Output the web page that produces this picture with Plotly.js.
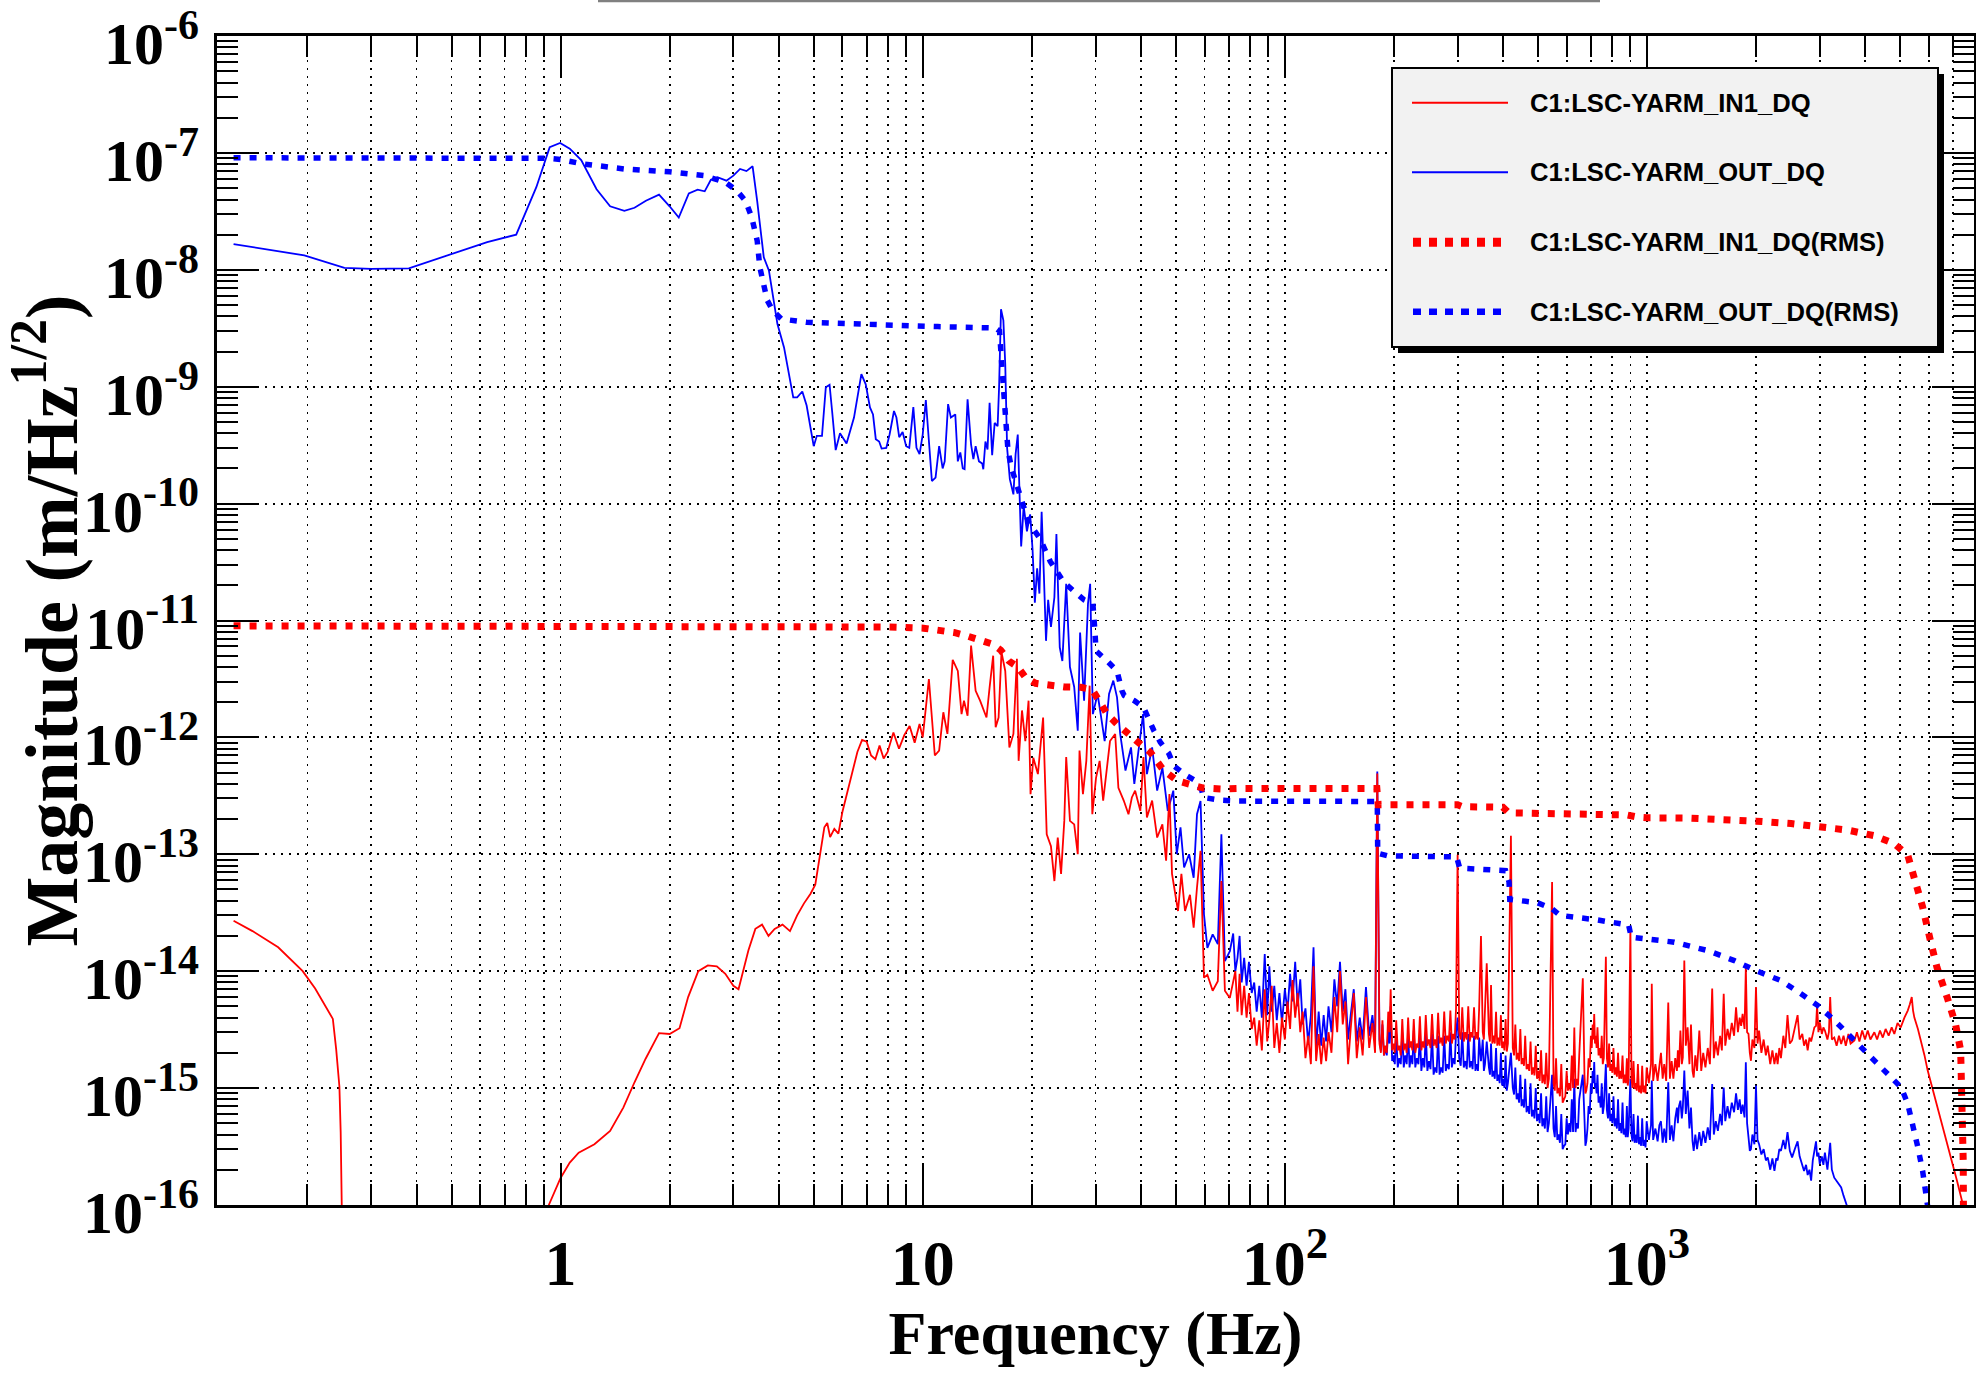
<!DOCTYPE html>
<html><head><meta charset="utf-8">
<script src="https://cdn.plot.ly/plotly-3.0.1.min.js"></script>
<style>html,body{margin:0;padding:0;background:#fff;}#plot{width:1976px;height:1382px;}</style>
</head><body><div id="plot"></div>
<script>
const seriesNames = ['C1:LSC-YARM_IN1_DQ','C1:LSC-YARM_OUT_DQ','C1:LSC-YARM_IN1_DQ(RMS)','C1:LSC-YARM_OUT_DQ(RMS)'];
const xTickVals = [1,10,100,1000];
const xTickText = ['1','10','10<sup>2</sup>','10<sup>3</sup>'];
const yTickVals = [1e-16,1e-15,1e-14,1e-13,1e-12,1e-11,1e-10,1e-9,1e-8,1e-7,1e-6];
const yTickText = ['10<sup>-16</sup>','10<sup>-15</sup>','10<sup>-14</sup>','10<sup>-13</sup>','10<sup>-12</sup>','10<sup>-11</sup>','10<sup>-10</sup>','10<sup>-9</sup>','10<sup>-8</sup>','10<sup>-7</sup>','10<sup>-6</sup>'];

// IN1 (red, solid) below 60 Hz
const inLowFreq = [0.125,0.141,0.166,0.194,0.21,0.224,0.235,0.240,0.245,0.247,0.2485,0.2495,0.5,
0.91,0.928,1.0,1.06,1.122,1.24,1.37,1.49,1.6,1.717,1.87,2.0,2.13,
2.25,2.4,2.55,2.7,2.85,3.0,3.1,3.3,3.45,3.6,3.75,3.9,4.1,4.3,
4.5,4.7,4.9,5.05,5.2,5.35,5.45,5.55,5.7,5.85,6.0,6.2,6.4,6.6,
6.8,7.0,7.2,7.4,7.6,7.8,8.0,8.3,8.6,8.9,9.2,9.5,9.8,
10.0,10.4,10.8,11.1,11.4,11.7,12.1,12.5,12.8,13.0,13.3,13.6,14.0,
14.4,15.0,15.3,15.65,15.9,16.2,16.5,16.9,17.35,17.8,18.2,18.4,18.8,
19.2,19.6,19.85,20.2,20.8,21.5,22.0,22.6,23.1,23.6,24.1,24.6,24.9,
25.5,26.2,26.8,27.1,27.7,28.3,28.9,29.4,30.1,30.8,31.5,32.2,32.9,
34.0,34.7,35.9,37.0,37.8,38.6,39.9,40.7,41.6,43.0,44.4,45.9,47.0,
48.0,48.8,49.6,50.7,51.8,53.0,54.7,56.0,57.2,58.5];
const inLowMag = [2.7e-14,2.2e-14,1.6e-14,1.0e-14,7.1e-15,5.0e-15,3.9e-15,2.15e-15,1.03e-15,4.2e-16,1.6e-16,5e-17,null,
6e-17,1.0e-16,1.7e-16,2.3e-16,2.8e-16,3.3e-16,4.3e-16,6.8e-16,1.12e-15,1.78e-15,2.95e-15,2.9e-15,3.25e-15,
6.0e-15,1.0e-14,1.12e-14,1.1e-14,9.5e-15,7.5e-15,7.0e-15,1.5e-14,2.3e-14,2.5e-14,2.0e-14,2.3e-14,2.5e-14,2.2e-14,
3.0e-14,3.8e-14,4.6e-14,5.5e-14,9.5e-14,1.7e-13,1.85e-13,1.4e-13,1.65e-13,1.5e-13,2.3e-13,3.5e-13,5.0e-13,7.5e-13,
9.5e-13,9.2e-13,7.0e-13,6.5e-13,8.5e-13,6.6e-13,7.5e-13,1.1e-12,8.0e-13,1.05e-12,1.25e-12,9.0e-13,1.3e-12,
1.0e-12,3.16e-12,7e-13,7.7e-13,1.64e-12,1.07e-12,4.6e-12,3.7e-12,1.58e-12,2.06e-12,1.53e-12,6.1e-12,2.5e-12,
2.06e-12,1.48e-12,2.68e-12,5.0e-12,1.22e-12,1.48e-12,5.35e-12,3.7e-12,8.2e-13,1.07e-12,4.7e-12,6.3e-13,1.7e-12,
9.3e-13,2.06e-12,3.27e-13,6.7e-13,4.85e-13,1.48e-12,1.48e-13,1.17e-13,5.9e-14,1.39e-13,6.8e-14,1.93e-13,6.8e-13,
1.93e-13,1.8e-13,1.0e-13,7.7e-13,3.27e-13,6.3e-13,2.77e-12,2.2e-13,4.5e-13,6.3e-13,2.88e-13,5.2e-13,9.3e-13,
1.07e-12,3.7e-13,2.88e-13,2.2e-13,3.06e-13,3.5e-13,2.35e-13,6.8e-13,2.06e-13,2.88e-13,1.39e-13,1.8e-13,8.8e-14,
3.27e-13,6.8e-14,4.85e-14,3.27e-14,6.8e-14,3.27e-14,4.5e-14,2.35e-14,5.2e-14,1.07e-13];

// OUT (blue, solid) below 60 Hz
const outLowFreq = [0.125,0.196,0.253,0.30,0.381,0.50,0.627,0.754,0.857,0.933,
0.997,1.06,1.14,1.257,1.37,1.50,1.60,1.72,1.87,2.0,
2.12,2.26,2.39,2.5,2.6,2.71,2.87,3.0,3.13,3.26,
3.39,3.49,3.64,3.76,3.87,3.97,4.14,4.27,4.39,4.5,
4.65,4.78,5.0,5.1,5.27,5.4,5.53,5.62,5.75,5.91,
6.16,6.46,6.63,6.77,6.96,7.15,7.29,7.42,7.58,7.70,
7.93,8.1,8.33,8.46,8.61,8.8,9.0,9.18,9.42,9.61,
9.8,10.0,10.2,10.6,10.85,11.1,11.35,11.5,11.75,11.96,
12.3,12.5,12.7,12.9,13.05,13.3,13.6,13.8,14.0,14.3,
14.6,14.7,14.9,15.1,15.3,15.55,15.8,16.1,16.25,16.45,
16.7,16.9,17.1,17.4,17.8,18.05,18.3,18.7,19.0,19.4,
19.8,20.1,20.4,20.7,21.0,21.3,21.6,21.9,22.2,22.6,
23.1,23.4,23.9,24.3,24.9,25.5,26.2,26.8,27.2,27.9,
28.6,29.0,29.5,30.4,31.1,31.8,32.7,33.6,34.4,35.1,
36.3,37.6,38.4,39.5,40.6,41.6,43.0,44.4,45.9,47.5,
49.2,50.3,51.5,52.7,54.4,56.0,57.2,58.5];
const outLowMag = [1.66e-8,1.33e-8,1.04e-8,1.02e-8,1.03e-8,1.37e-8,1.73e-8,2.0e-8,5.1e-8,1.12e-7,
1.22e-7,1.09e-7,8.7e-8,4.9e-8,3.5e-8,3.2e-8,3.4e-8,3.9e-8,4.4e-8,3.5e-8,
2.8e-8,4.5e-8,4.85e-8,4.7e-8,5.9e-8,6.2e-8,5.8e-8,6.4e-8,7.3e-8,7.0e-8,
7.7e-8,3.9e-8,1.28e-8,9.9e-9,5.46e-9,3.44e-9,2.17e-9,1.28e-9,8.1e-10,8.1e-10,
9.1e-10,6.9e-10,3.1e-10,3.8e-10,3.8e-10,9.9e-10,1.04e-9,6.2e-10,2.87e-10,4.0e-10,
3.27e-10,5.45e-10,9.2e-10,1.28e-9,1.05e-9,6.65e-10,5.8e-10,3.56e-10,3.4e-10,2.96e-10,
3.0e-10,3.9e-10,6.2e-10,5.45e-10,3.7e-10,4.1e-10,3.1e-10,3.0e-10,6.7e-10,3.0e-10,
2.65e-10,3.9e-10,7.7e-10,1.56e-10,1.67e-10,3.1e-10,2.0e-10,2.3e-10,7.1e-10,5.45e-10,
5.8e-10,2.3e-10,2.74e-10,2.0e-10,1.97e-10,7.8e-10,3.2e-10,2.4e-10,3.1e-10,2.3e-10,
2.2e-10,1.97e-10,3.4e-10,2.9e-10,7.3e-10,2.6e-10,4.9e-10,4.6e-10,9.9e-10,4.6e-9,
3.7e-9,1.56e-9,3.0e-10,1.62e-10,1.2e-10,2.65e-10,3.9e-10,4.3e-11,9.5e-11,5.8e-11,
8.1e-11,4.1e-11,1.42e-11,2.8e-11,1.7e-11,8.5e-11,2.5e-11,6.7e-12,1.5e-11,8.8e-12,
1.58e-11,5.5e-11,5.9e-12,4.5e-12,2.06e-11,4.0e-12,2.7e-12,1.14e-12,7.9e-12,2.06e-12,
1.39e-11,2.06e-11,1.58e-12,2.35e-12,1.48e-12,9.3e-13,2.35e-12,3.06e-12,2.2e-12,1.07e-12,
5.2e-13,8.2e-13,4.0e-13,8.2e-13,1.58e-12,4.85e-13,8.2e-13,3.5e-13,5.5e-13,2.35e-13,
3.5e-13,1.0e-13,1.7e-13,7.7e-14,1.0e-13,6.3e-14,2.2e-13,2.86e-13];

// shared frequency bins above 60 Hz
const hiFreq = [59.8,61.1,63.2,65.3,66.8,68.3,70.5,72.0,73.0,74.0,
75.0,76.0,77.2,78.4,79.6,81.0,82.3,83.6,85.0,86.4,
88.0,89.4,90.6,92.0,93.5,95.0,96.6,98.2,100,101.7,
103.4,105,106.8,108.5,110.3,112,114,116,118,120,
122,124,126,128,130,132,134.5,137,139.5,142,
144.5,147,149.5,152,155,158,161,164,167.5,171,
174.5,177.5,180,182.5,186,189.5,193,196,199.5,203,
207,211,215,219,223,227,231.5,236,240.5,245,
250,255,260,265,270,275.5,281,286.5,292,297,
300,303,309,315,321,327,333,339,344,348,
352,357,361,366,371,377,383,389,395,401,
407,413,421,426,433,440,447,454,461,469,
477,485,493,501,510,518,527,536,547,552,
561,570,580,590,600,610,620,630,640,650,
665,672,680,690,700,708,715,722,730,740,
750,760,770,775,786,797,808,820,832,844,
856,868,880,890,900,906,918,931,944,957,
970,984,998,1012,1026,1031,1040,1055,1070,1082,
1093,1105,1116,1130,1145,1157,1170,1183,1197,1210,
1217,1226,1237,1248,1256,1268,1280,1295,1310,1323,
1336,1346,1360,1375,1395,1412,1430,1450,1472,1492,
1514,1530,1549,1570,1592,1610,1629,1645,1669,1690,
1715,1740,1762,1783,1803,1820,1837,1860,1875,1890,
1907,1923,1937,1955,1980,2000,2020,2040,2070,2100,
2130,2155,2190,2220,2249,2275,2295,2320,2344,2380,
2410,2444,2480,2516,2560,2606,2640,2685,2715,2750,
2778,2810,2840,2870,2899,2930,2950,2975,3000,3040,
3070,3100,3150,3180,3206,3240,3290,3340,3390,3438,
3490,3540,3600,3650,3740,3800,3860,3930,4000,4070,
4140,4245,4320,4400,4480,4560,4650,4740,4820,4920,
5020,5140,5250,5320,5385,5430,5475,5600,5715,5840,
5960,6090,6220,6390,6560,6740,6920,7180,7460,7700];
const inHiMag = [8.8e-15,9.3e-15,6.8e-15,8.2e-15,5.9e-14,6.8e-15,5.9e-15,8.0e-15,1.0e-14,4.5e-15,
9.5e-15,4.2e-15,7.5e-15,4.0e-15,6.5e-15,3.2e-15,4.0e-15,2.3e-15,3.8e-15,2.1e-15,
7.0e-15,2.5e-15,3.8e-15,7.5e-15,2.2e-15,3.6e-15,2.0e-15,4.0e-15,2.6e-15,5.5e-15,
3.2e-15,8.4e-15,4.0e-15,6.5e-15,3.0e-15,4.5e-15,1.8e-15,2.8e-15,1.6e-15,1.1e-14,
1.7e-15,2.9e-15,1.6e-15,2.7e-15,1.7e-15,3.0e-15,2.0e-15,6.0e-15,3.0e-15,1.0e-14,
3.5e-15,5.5e-15,1.6e-15,3.2e-15,6.5e-15,1.8e-15,3.3e-15,1.9e-15,6.0e-15,2.2e-15,
3.6e-15,2.0e-15,4.9e-13,2.4e-15,3.8e-15,2.3e-15,4.5e-15,7.0e-15,2.4e-15,3.8e-15,
2.3e-15,3.9e-15,2.4e-15,4.0e-15,2.5e-15,3.9e-15,2.4e-15,4.1e-15,2.5e-15,4.2e-15,
2.6e-15,4.3e-15,2.6e-15,4.4e-15,2.7e-15,4.5e-15,2.8e-15,4.6e-15,2.9e-15,4.8e-15,
9.9e-14,3.0e-15,4.9e-15,3.0e-15,5.0e-15,3.0e-15,4.9e-15,3.0e-15,4.8e-15,2.0e-14,
3.0e-15,4.7e-15,1.17e-14,2.9e-15,7.6e-15,2.8e-15,4.5e-15,2.7e-15,4.2e-15,2.5e-15,
3.9e-15,2.4e-15,1.44e-13,2.2e-15,3.5e-15,2.0e-15,3.2e-15,1.8e-15,2.8e-15,1.6e-15,
2.5e-15,1.5e-15,2.3e-15,1.4e-15,2.1e-15,1.3e-15,2.0e-15,1.2e-15,5.8e-14,1.1e-15,
1.8e-15,1.0e-15,1.6e-15,8.0e-16,1.4e-15,1.1e-15,1.9e-15,3.3e-15,1.2e-15,1.9e-15,
8.7e-15,1.3e-15,9.5e-16,1.8e-15,2.8e-15,3.5e-15,4.3e-15,2.8e-15,3.3e-15,2.2e-15,
2.8e-15,1.8e-15,1.33e-14,1.8e-15,2.4e-15,1.6e-15,2.2e-15,1.5e-15,2.0e-15,1.4e-15,
1.9e-15,1.3e-15,1.8e-15,1.2e-15,2.4e-14,1.2e-15,1.7e-15,1.1e-15,1.6e-15,1.05e-15,
1.55e-15,1.05e-15,1.5e-15,1.1e-15,1.6e-15,7.8e-15,1.15e-15,1.6e-15,1.15e-15,1.6e-15,
2.0e-15,1.2e-15,1.6e-15,1.15e-15,5.4e-15,1.2e-15,1.7e-15,1.2e-15,1.8e-15,1.4e-15,
2.1e-15,1.5e-15,3.1e-15,1.6e-15,1.83e-15,1.23e-14,2.3e-15,3.3e-15,1.6e-15,3.5e-15,
1.4e-15,1.23e-15,1.9e-15,1.4e-15,3.1e-15,1.4e-15,2.0e-15,1.5e-15,2.2e-15,1.6e-15,
7.1e-15,1.8e-15,2.5e-15,1.9e-15,2.8e-15,2.1e-15,6.4e-15,2.3e-15,3.2e-15,2.6e-15,
3.6e-15,2.8e-15,4.9e-15,3.0e-15,4.0e-15,3.4e-15,4.3e-15,3.2e-15,1.08e-14,3.0e-15,
2.9e-15,2.0e-15,1.71e-15,2.6e-15,2.2e-15,7.3e-15,2.4e-15,3.1e-15,2.0e-15,2.6e-15,
1.9e-15,2.3e-15,1.6e-15,2.1e-15,1.6e-15,2.0e-15,1.6e-15,2.2e-15,1.8e-15,2.8e-15,
2.2e-15,4.2e-15,2.4e-15,2.55e-15,3.2e-15,4.2e-15,2.6e-15,2.9e-15,2.3e-15,2.6e-15,
2.1e-15,2.7e-15,2.5e-15,3.0e-15,3.3e-15,3.4e-15,5.1e-15,3.0e-15,3.65e-15,2.9e-15,
3.3e-15,3.1e-15,2.6e-15,3.0e-15,6.0e-15,2.6e-15,2.7e-15,2.3e-15,2.8e-15,2.38e-15,
2.8e-15,2.3e-15,2.9e-15,2.4e-15,2.55e-15,3.0e-15,2.5e-15,3.1e-15,2.6e-15,3.1e-15,
2.6e-15,3.0e-15,2.6e-15,3.1e-15,2.7e-15,3.2e-15,2.8e-15,3.3e-15,2.9e-15,3.6e-15,
3.3e-15,4.0e-15,4.6e-15,5.2e-15,6.0e-15,4.6e-15,4.0e-15,3.2e-15,2.55e-15,1.9e-15,
1.41e-15,1.1e-15,8.3e-16,6.2e-16,4.6e-16,3.4e-16,2.55e-16,1.61e-16,1.0e-16,6.5e-17];
const outHiMag = [3.06e-14,1.58e-14,2.06e-14,1.7e-14,1.48e-13,1.22e-14,1.48e-14,2.1e-14,1.0e-14,1.3e-14,
2.0e-14,8e-15,1.3e-14,7.5e-15,1.2e-14,6.5e-15,8.0e-15,4.5e-15,7.5e-15,4.0e-15,
1.4e-14,4.2e-15,1.1e-14,4.5e-15,7.5e-15,3.8e-15,6.5e-15,3.6e-15,7.0e-15,4.5e-15,
9.5e-15,5.5e-15,1.2e-14,5.0e-15,8.5e-15,3.5e-15,4.8e-15,2.4e-15,4.2e-15,1.6e-14,
2.2e-15,4.5e-15,2.3e-15,4.2e-15,2.5e-15,5.0e-15,3.0e-15,8.5e-15,5.0e-15,1.2e-14,
4.5e-15,7.0e-15,2.6e-15,4.2e-15,7.0e-15,2.5e-15,4.0e-15,2.6e-15,7.3e-15,2.8e-15,
4.2e-15,2.5e-15,5.1e-13,2.6e-15,3.5e-15,2.2e-15,3.2e-15,5.0e-15,1.9e-15,2.9e-15,
1.8e-15,3.0e-15,1.9e-15,3.0e-15,1.9e-15,3.1e-15,1.8e-15,2.9e-15,1.8e-15,3.0e-15,
1.7e-15,2.9e-15,1.5e-15,2.8e-15,1.5e-15,2.8e-15,1.6e-15,3.0e-15,1.8e-15,3.0e-15,
4.0e-15,1.8e-15,3.0e-15,1.7e-15,2.9e-15,1.7e-15,2.8e-15,1.6e-15,2.7e-15,1.7e-15,
2.6e-15,1.6e-15,2.5e-15,1.5e-15,2.4e-15,1.4e-15,2.2e-15,1.3e-15,2.0e-15,1.2e-15,
1.9e-15,1.1e-15,2.0e-15,1.0e-15,1.5e-15,9.0e-16,1.3e-15,8.0e-16,1.2e-15,7.0e-16,
1.1e-15,6.5e-16,1.0e-15,6.0e-16,9.0e-16,5.5e-16,8.5e-16,5.0e-16,1.3e-15,4.5e-16,
7.0e-16,4.0e-16,6.0e-16,3.2e-16,5.5e-16,5.0e-16,8.0e-16,1.2e-15,5.0e-16,8.0e-16,
1.3e-15,5.5e-16,3.5e-16,7.0e-16,1.1e-15,1.4e-15,1.67e-15,1.1e-15,1.3e-15,8.5e-16,
1.1e-15,7.0e-16,1.6e-15,6.5e-16,9.0e-16,6.0e-16,8.5e-16,5.5e-16,8.0e-16,5.0e-16,
7.5e-16,4.5e-16,7.0e-16,4.5e-16,1.2e-15,4.0e-16,6.0e-16,4.0e-16,5.8e-16,3.8e-16,
5.5e-16,3.6e-16,5.2e-16,3.6e-16,4.8e-16,1.16e-15,3.6e-16,4.5e-16,3.5e-16,4.8e-16,
5.2e-16,3.4e-16,4.5e-16,3.4e-16,1.12e-15,3.6e-16,4.8e-16,3.5e-16,5.5e-16,6.8e-16,
5.0e-16,7.0e-16,7.8e-16,5.5e-16,6.8e-16,1.41e-15,6.0e-16,9.5e-16,4.5e-16,6.8e-16,
3.5e-16,2.9e-16,4.0e-16,3.0e-16,4.2e-16,3.2e-16,4.3e-16,3.4e-16,4.6e-16,3.6e-16,
1.08e-15,4.0e-16,5.2e-16,4.3e-16,6.0e-16,4.8e-16,1.01e-15,5.2e-16,7.0e-16,5.5e-16,
7.5e-16,6.2e-16,9.0e-16,6.5e-16,8.0e-16,6.0e-16,7.2e-16,5.6e-16,1.66e-15,5.0e-16,
3.8e-16,2.9e-16,3.0e-16,4.0e-16,3.3e-16,1.05e-15,3.6e-16,3.3e-16,2.7e-16,3.0e-16,
2.4e-16,2.55e-16,2.0e-16,2.5e-16,1.95e-16,2.5e-16,2.4e-16,3.0e-16,2.9e-16,3.6e-16,
3.0e-16,4.2e-16,2.9e-16,2.55e-16,3.0e-16,3.5e-16,2.6e-16,2.2e-16,1.95e-16,2.2e-16,
1.8e-16,2.0e-16,1.61e-16,2.4e-16,2.8e-16,3.5e-16,2.6e-16,2.8e-16,2.24e-16,2.6e-16,
2.2e-16,2.8e-16,2.0e-16,2.6e-16,3.4e-16,2.0e-16,1.71e-16,1.6e-16,1.5e-16,1.41e-16,
1.2e-16,1.05e-16,9e-17,7e-17];

// extra bins read inside the dense noise band (182-1000 Hz)
const hiFreqFill = [184.2,187.8,191.2,194.5,197.8,201.2,205,209,213,217,
221,225,229.2,233.8,238.2,242.8,247.5,252.5,257.5,262.5,
267.5,272.8,278.2,283.8,289.2,294.5,306,312,318,324,
330,336,341.5,354.5,368.5,374,380,386,392,398,
404,410,429.5,436.5,443.5,450.5,457.5,465,473,481,
489,497,505.5,514,522.5,531.5,556.5,565.5,575,585,
595,605,615,625,635,645,676,685,695,704,
711.5,718.5,726,735,745,755,780.5,791.5,802.5,814,
826,838,850,862,874,885,912,924.5,937.5,950.5,
963.5,977,991];
const inHiFill = [2.0e-15,1.9e-15,2.0e-15,3.0e-15,2.1e-15,2.0e-15,2.1e-15,1.9e-15,2.1e-15,2.0e-15,
2.2e-15,2.1e-15,2.0e-15,2.2e-15,2.1e-15,2.2e-15,2.3e-15,2.2e-15,2.3e-15,2.2e-15,
2.4e-15,2.3e-15,2.4e-15,2.5e-15,2.4e-15,2.6e-15,2.6e-15,2.5e-15,2.6e-15,2.5e-15,
2.7e-15,2.6e-15,2.6e-15,2.6e-15,2.5e-15,2.4e-15,2.4e-15,2.3e-15,2.3e-15,2.2e-15,
2.1e-15,2.05e-15,1.9e-15,1.75e-15,1.7e-15,1.6e-15,1.55e-15,1.45e-15,1.4e-15,1.3e-15,
1.28e-15,1.2e-15,1.15e-15,1.1e-15,1.08e-15,1.0e-15,9.5e-16,9.0e-16,8.5e-16,7.5e-16,
8.5e-16,9.5e-16,9.5e-16,1.0e-15,1.0e-15,1.05e-15,9.0e-16,1.1e-15,1.5e-15,2.2e-15,
2.6e-15,2.4e-15,2.2e-15,1.9e-15,1.8e-15,1.6e-15,1.5e-15,1.4e-15,1.35e-15,1.3e-15,
1.25e-15,1.2e-15,1.2e-15,1.1e-15,1.1e-15,1.05e-15,1.0e-15,9.8e-16,9.5e-16,9.2e-16,
9.0e-16,9.2e-16,9.0e-16];
const outHiFill = [2.1e-15,1.9e-15,1.9e-15,2.4e-15,1.7e-15,1.6e-15,1.5e-15,1.6e-15,1.5e-15,1.6e-15,
1.5e-15,1.6e-15,1.5e-15,1.6e-15,1.4e-15,1.5e-15,1.4e-15,1.45e-15,1.3e-15,1.35e-15,
1.3e-15,1.35e-15,1.4e-15,1.45e-15,1.5e-15,1.6e-15,1.55e-15,1.5e-15,1.45e-15,1.5e-15,
1.45e-15,1.4e-15,1.4e-15,1.4e-15,1.3e-15,1.25e-15,1.2e-15,1.15e-15,1.1e-15,1.05e-15,
1.0e-15,9.5e-16,8.8e-16,8.0e-16,7.5e-16,7.0e-16,6.8e-16,6.2e-16,6.0e-16,5.7e-16,
5.5e-16,5.2e-16,5.0e-16,4.7e-16,4.5e-16,4.2e-16,3.8e-16,3.6e-16,3.4e-16,3.0e-16,
3.3e-16,4.0e-16,4.2e-16,4.2e-16,4.2e-16,4.5e-16,3.2e-16,4.5e-16,6.0e-16,9.0e-16,
1.1e-15,1.0e-15,9.0e-16,7.5e-16,6.8e-16,6.0e-16,5.5e-16,5.2e-16,5.0e-16,4.7e-16,
4.5e-16,4.3e-16,4.1e-16,4.0e-16,3.8e-16,3.8e-16,3.5e-16,3.4e-16,3.4e-16,3.3e-16,
3.2e-16,3.2e-16,3.1e-16];

// RMS curves
const inRmsFreq = [0.125,1.0,3.0,6.0,8.0,10.05,11.2,12.2,13.2,14.4,15.55,16.4,17.3,18.3,19.2,20.5,22.2,24.6,27.3,28.8,
29.7,30.5,32.3,34.4,36.8,39.3,42.6,46.3,50.5,55.0,59.6,66.5,73.9,120,179.5,181,300,310,400,415,
590,880,950,1000,1296,1820,2000,2500,3000,3585,4245,4820,5250,5475,5770,6090,6320,6740,7110,7350,
7420,7460,7470,7480,7490];
const inRmsMag = [9.0e-12,9.0e-12,8.95e-12,8.9e-12,8.8e-12,8.6e-12,8.3e-12,7.9e-12,7.4e-12,6.8e-12,6.3e-12,5.6e-12,4.5e-12,4.0e-12,3.27e-12,2.9e-12,2.77e-12,2.7e-12,2.68e-12,2.6e-12,
2.43e-12,2.1e-12,1.58e-12,1.3e-12,1.07e-12,9.1e-13,7.4e-13,5.2e-13,4.25e-13,3.93e-13,3.68e-13,3.62e-13,3.65e-13,3.65e-13,3.65e-13,2.65e-13,2.65e-13,2.55e-13,2.53e-13,2.26e-13,
2.22e-13,2.17e-13,2.07e-13,2.05e-13,2.04e-13,1.98e-13,1.92e-13,1.83e-13,1.71e-13,1.61e-13,1.44e-13,1.23e-13,9.8e-14,6.4e-14,3.54e-14,1.72e-14,1.08e-14,6.0e-15,3.54e-15,2.1e-15,
9.5e-16,4.9e-16,2.38e-16,1.0e-16,5e-17];
const outRmsFreq = [0.125,0.5,0.93,1.0,1.14,1.5,1.66,2.0,2.5,2.85,3.06,3.24,3.37,3.49,3.55,3.64,3.72,3.85,4.07,4.78,
7.35,11.0,15.9,16.3,16.5,16.8,17.0,17.2,17.6,18.2,18.9,19.6,21.1,22.5,24.6,27.9,29.5,29.9,30.1,32.3,
34.4,35.5,36.0,38.4,40.7,43.5,45.3,47.8,49.4,52.7,56.8,59.0,59.6,66.5,73.9,177,180,180.5,192,298,
304,407,416,418,497,545,575,730,890,905,993,1190,1470,1743,2000,2344,2663,2958,3290,3580,
3900,4245,4624,5035,5250,5420,5600,5770,5890,5985,6050];
const outRmsMag = [9.1e-8,9.1e-8,9.0e-8,8.8e-8,8.1e-8,7.3e-8,7.2e-8,6.9e-8,6.4e-8,5.6e-8,4.8e-8,3.9e-8,2.83e-8,1.78e-8,1.05e-8,7.1e-9,5.5e-9,4.5e-9,3.8e-9,3.56e-9,
3.38e-9,3.27e-9,3.18e-9,3.0e-9,1.67e-9,8.6e-10,4.5e-10,2.83e-10,2.0e-10,1.37e-10,9.9e-11,6.9e-11,5.0e-11,3.2e-11,2.1e-11,1.5e-11,1.4e-11,8e-12,5.5e-12,4.5e-12,
3.7e-12,2.5e-12,2.28e-12,2.06e-12,1.81e-12,1.14e-12,9.1e-13,7.3e-13,5.7e-13,4.85e-13,4.25e-13,3.5e-13,3.06e-13,2.9e-13,2.85e-13,2.83e-13,2.8e-13,1.02e-13,9.7e-14,9.5e-14,
7.6e-14,7.24e-14,5.8e-14,4.1e-14,3.86e-14,3.44e-14,3.0e-14,2.74e-14,2.48e-14,1.95e-14,1.89e-14,1.77e-14,1.5e-14,1.23e-14,1.01e-14,8.3e-15,6.4e-15,5.1e-15,3.8e-15,2.9e-15,
2.23e-15,1.71e-15,1.32e-15,1.01e-15,7.3e-16,4.9e-16,3.1e-16,1.95e-16,1.32e-16,1.0e-16,7e-17];

// ---------- merge the band bins (ordered by frequency) ----------
const hiRows = hiFreq.map((f, i) => ({f: f, r: inHiMag[i], b: i < outHiMag.length ? outHiMag[i] : undefined}));
hiFreqFill.forEach((f, i) => hiRows.push({f: f, r: inHiFill[i], b: outHiFill[i]}));
hiRows.sort((a, c) => a.f - c.f);
const outRows = hiRows.filter(d => d.b !== undefined);

// ---------- layout helpers (pixel geometry of the frame) ----------
const W = 1976, Hh = 1382;
const L = 217, R = 1974, T = 36, B = 1205;
const px = x => (x - L) / (R - L);
const py = y => 1 - (y - T) / (B - T);

const RED = '#ff0000', BLUE = '#0000ff';
const serif = 'Liberation Serif, Times New Roman, serif';
const sans = 'Liberation Sans, Arial, Helvetica, sans-serif';

const traces = [
  {x: outLowFreq.concat(outRows.map(d => d.f)), y: outLowMag.concat(outRows.map(d => d.b)), name: seriesNames[1],
   type: 'scatter', mode: 'lines', line: {color: BLUE, width: 1.8}},
  {x: inLowFreq.concat(hiRows.map(d => d.f)), y: inLowMag.concat(hiRows.map(d => d.r)), name: seriesNames[0],
   type: 'scatter', mode: 'lines', line: {color: RED, width: 1.8}},
  {x: outRmsFreq, y: outRmsMag, name: seriesNames[3], type: 'scatter', mode: 'lines',
   line: {color: BLUE, width: 5.5, dash: '7px,9px'}},
  {x: inRmsFreq, y: inRmsMag, name: seriesNames[2], type: 'scatter', mode: 'lines',
   line: {color: RED, width: 7, dash: '7px,9px'}}
];

const xMinor = [], yMinor = [];
for (let e = -1; e <= 3; e++) for (let k = 2; k <= 9; k++) xMinor.push(k * Math.pow(10, e));
for (let e = -16; e <= -7; e++) for (let k = 2; k <= 9; k++) yMinor.push(k * Math.pow(10, e));

const gridDash = '2px,6px';
const shapes = [
  {type: 'line', xref: 'paper', yref: 'paper', x0: px(598), x1: px(1600), y0: py(1), y1: py(1),
   line: {color: '#808080', width: 2.5}, layer: 'above'},
  {type: 'rect', xref: 'paper', yref: 'paper', x0: px(1398), x1: px(1944), y0: py(353), y1: py(74),
   fillcolor: '#000', line: {width: 0}, layer: 'above'},
  {type: 'rect', xref: 'paper', yref: 'paper', x0: px(1392), x1: px(1938), y0: py(347), y1: py(68),
   fillcolor: '#f2f2f2', line: {color: '#000', width: 2}, layer: 'above'}
];
const legY = [102.7, 172.3, 242.3, 311.7];
const legStyle = [
  {color: RED, width: 2}, {color: BLUE, width: 2},
  {color: RED, width: 9, dash: '8px,8px'}, {color: BLUE, width: 6.5, dash: '8px,8px'}
];
const annotations = [];
legY.forEach((yy, i) => {
  const dotted = i >= 2;
  shapes.push({type: 'line', xref: 'paper', yref: 'paper', x0: px(dotted ? 1413 : 1412), x1: px(dotted ? 1501 : 1508),
    y0: py(yy), y1: py(yy), line: legStyle[i], layer: 'above'});
  annotations.push({xref: 'paper', yref: 'paper', x: px(1528), y: py(yy), xanchor: 'left', yanchor: 'middle',
    text: seriesNames[i], showarrow: false,
    font: {family: sans, size: 25.6, color: '#000', weight: 'bold'}});
});

const axisCommon = {
  type: 'log', showline: true, linecolor: '#000', linewidth: 3, mirror: 'ticks',
  ticks: 'inside', ticklen: 42, tickwidth: 2, tickcolor: '#000', tickmode: 'array',
  showgrid: true, gridcolor: '#000', gridwidth: 1.8, griddash: gridDash, zeroline: false,
  automargin: false, ticklabeloverflow: 'allow'
};

const layout = {
  width: W, height: Hh, margin: {l: L, r: W - R, t: T, b: Hh - B, pad: 0},
  paper_bgcolor: '#fff', plot_bgcolor: '#fff', showlegend: false, hovermode: false,
  xaxis: Object.assign({}, axisCommon, {
    range: [Math.log10(0.1125), Math.log10(8000)], tickvals: xTickVals, ticktext: xTickText,
    ticklabelstandoff: 0,
    tickfont: {family: serif, size: 64, color: '#000', weight: 'bold'},
    minor: {tickmode: 'array', tickvals: xMinor, ticks: 'inside', ticklen: 21, tickwidth: 2, tickcolor: '#000',
      showgrid: true, gridcolor: '#000', gridwidth: 1.8, griddash: gridDash},
    title: {text: 'Frequency (Hz)', font: {family: serif, size: 62, color: '#000', weight: 'bold'}, standoff: 0}
  }),
  yaxis: Object.assign({}, axisCommon, {
    range: [-16.001, -5.999], tickvals: yTickVals, ticktext: yTickText, ticklabelstandoff: 3,
    ticklabelshift: 7,
    tickfont: {family: serif, size: 60, color: '#000', weight: 'bold'},
    minor: {tickmode: 'array', tickvals: yMinor, ticks: 'inside', ticklen: 21, tickwidth: 2, tickcolor: '#000',
      showgrid: false},
    title: {text: 'Magnitude (m/Hz<sup>1/2</sup>)', font: {family: serif, size: 74, color: '#000', weight: 'bold'}, standoff: 30}
  }),
  shapes: shapes, annotations: annotations
};

Plotly.newPlot('plot', traces, layout, {displayModeBar: false, staticPlot: true});
</script></body></html>
